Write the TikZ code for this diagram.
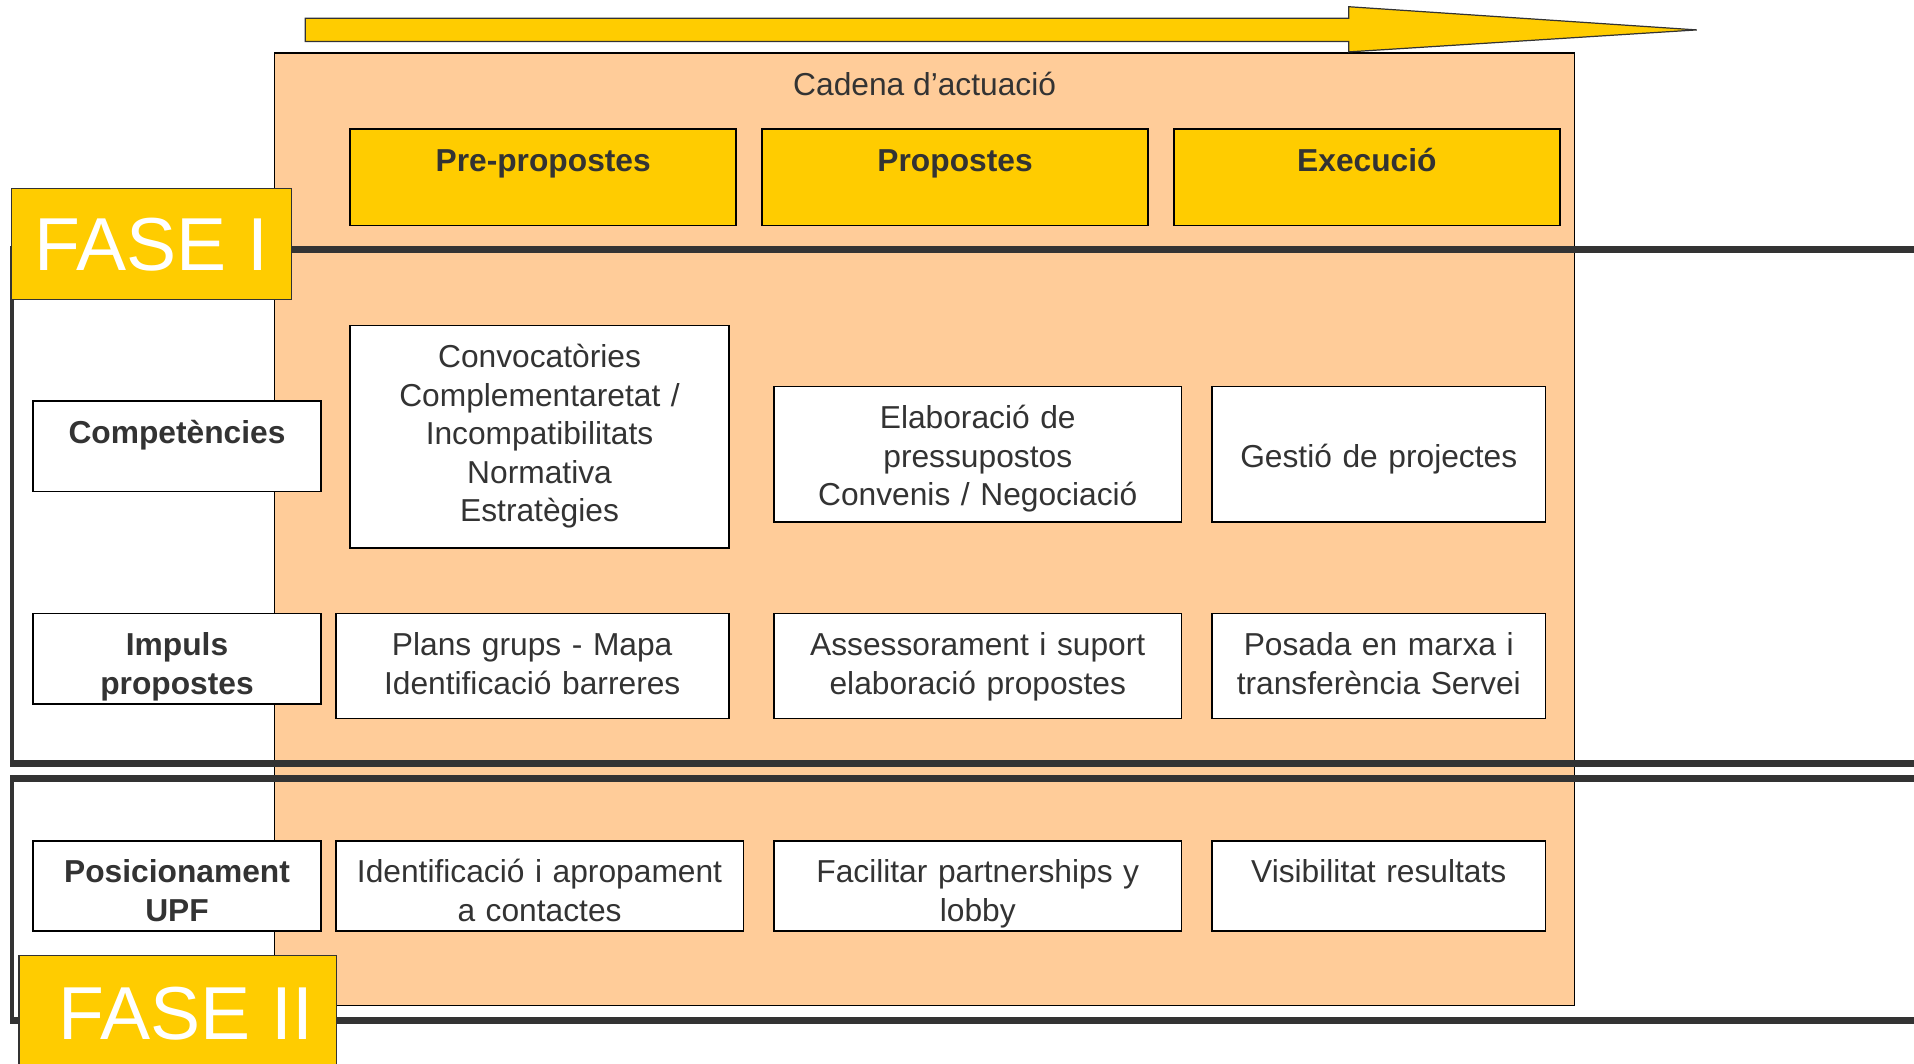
\documentclass[tikz,border=0pt]{standalone}
\usepackage{fontspec}
\setmainfont{Liberation Sans}
\usetikzlibrary{positioning}

\definecolor{fasegold}{HTML}{FFCC00}
\definecolor{chainpeach}{HTML}{FFCC99}
\definecolor{darkline}{HTML}{333333}

\tikzset{
  cell/.style={draw=black, line width=1.4pt, fill=white, inner sep=0pt, text height=34.5pt,
    align=center, text=darkline, font=\fontsize{26}{31.5}\selectfont},
  rowlabel/.style={cell, text width=236pt, text depth=39.5pt, font=\fontsize{26}{31.5}\selectfont\bfseries},
  header/.style={cell, fill=fasegold, text width=316pt, text height=35pt, text depth=44pt,
    font=\fontsize{26}{31.5}\selectfont\bfseries},
  fase/.style={draw=darkline, line width=1pt, fill=fasegold, text=white, inner sep=0pt,
    text height=44pt, text depth=0pt, font=\fontsize{61.5}{70}\selectfont},
  phaseline/.style={line width=6pt, draw=darkline},
  phaseside/.style={line width=3.4pt, draw=darkline}
}

\begin{document}
\begin{tikzpicture}[x=1pt,y=-1pt,node distance=20pt]

            \clip (0,0) rectangle (1568,871);

            \node[draw=black, line width=1.2pt, fill=chainpeach, minimum width=1065pt, inner ysep=0pt,
                  text height=35pt, text depth=745pt, text=darkline, font=\fontsize{26}{31.5}\selectfont]
                  (chain) at (757.5,43) [anchor=north] {Cadena d’actuació};

            \draw[phaseline] (8.3,204.4) -- (1568,204.4);
            \draw[phaseside] (10,204) -- (10,625);
            \draw[phaseline] (8.3,625.5) -- (1568,625.5);

            \draw[phaseline] (8.3,638) -- (1568,638);
            \draw[phaseside] (10,638) -- (10,836);
            \draw[phaseline] (8.3,836) -- (1568,836);

            \node[header] (prep) at (445,105) [anchor=north] {Pre-propostes};

            \node[header] (prop) [right=of prep] {Propostes};

            \node[header] (exec) [right=of prop] {Execució};

            \node[rowlabel] (comp) at (145,328) [anchor=north] {Competències};

            \node[rowlabel] (impuls) at (145,502) [anchor=north] {Impuls\\propostes};

            \node[rowlabel] (posic) at (145,688) [anchor=north] {Posicionament\\UPF};

            \node[cell, text width=310pt, text depth=147.5pt] (conv) at (442,266) [anchor=north]
                  {Convocatòries\\Complementaretat /\\Incompatibilitats\\Normativa\\Estratègies};

            \node[cell, text width=334pt, text depth=76.5pt] (elab) at (801,316) [anchor=north]
                  {Elaboració de\\pressupostos\\Convenis / Negociació};

            \node[cell, text width=273pt, text height=66pt, text depth=45pt] (gestio) at (1129.5,316) [anchor=north]
                  {Gestió de projectes};

            \node[cell, text width=322pt, text depth=51.5pt] (plans) at (436,502) [anchor=north]
                  {Plans grups - Mapa\\Identificació barreres};

            \node[cell, text width=334pt, text depth=51.5pt] (assess) at (801,502) [anchor=north]
                  {Assessorament i suport\\elaboració propostes};

            \node[cell, text width=273pt, text depth=51.5pt] (posada) at (1129.5,502) [anchor=north]
                  {Posada en marxa i\\transferència Servei};

            \node[cell, text width=334pt, text depth=39.5pt] (ident) at (442,688) [anchor=north]
                  {Identificació i apropament\\a contactes};

            \node[cell, text width=334pt, text depth=39.5pt] (facil) at (801,688) [anchor=north]
                  {Facilitar partnerships y\\lobby};

            \node[cell, text width=273pt, text depth=39.5pt] (visib) at (1129.5,688) [anchor=north]
                  {Visibilitat resultats};

            \node[fase, minimum width=229pt, minimum height=91pt] (fase1) at (9,154) [anchor=north west] {FASE I};

            \node[fase, minimum width=260pt, minimum height=94pt] (fase2) at (15,782) [anchor=north west]
                  {\hspace*{14pt}FASE II};

            \draw[darkline, line width=1pt, fill=fasegold] (250,15) -- (1105,15) -- (1105,5.5) -- (1390,24.5)
                  -- (1105,42.5) -- (1105,34) -- (250,34) -- cycle;

        \end{tikzpicture}
\end{document}
